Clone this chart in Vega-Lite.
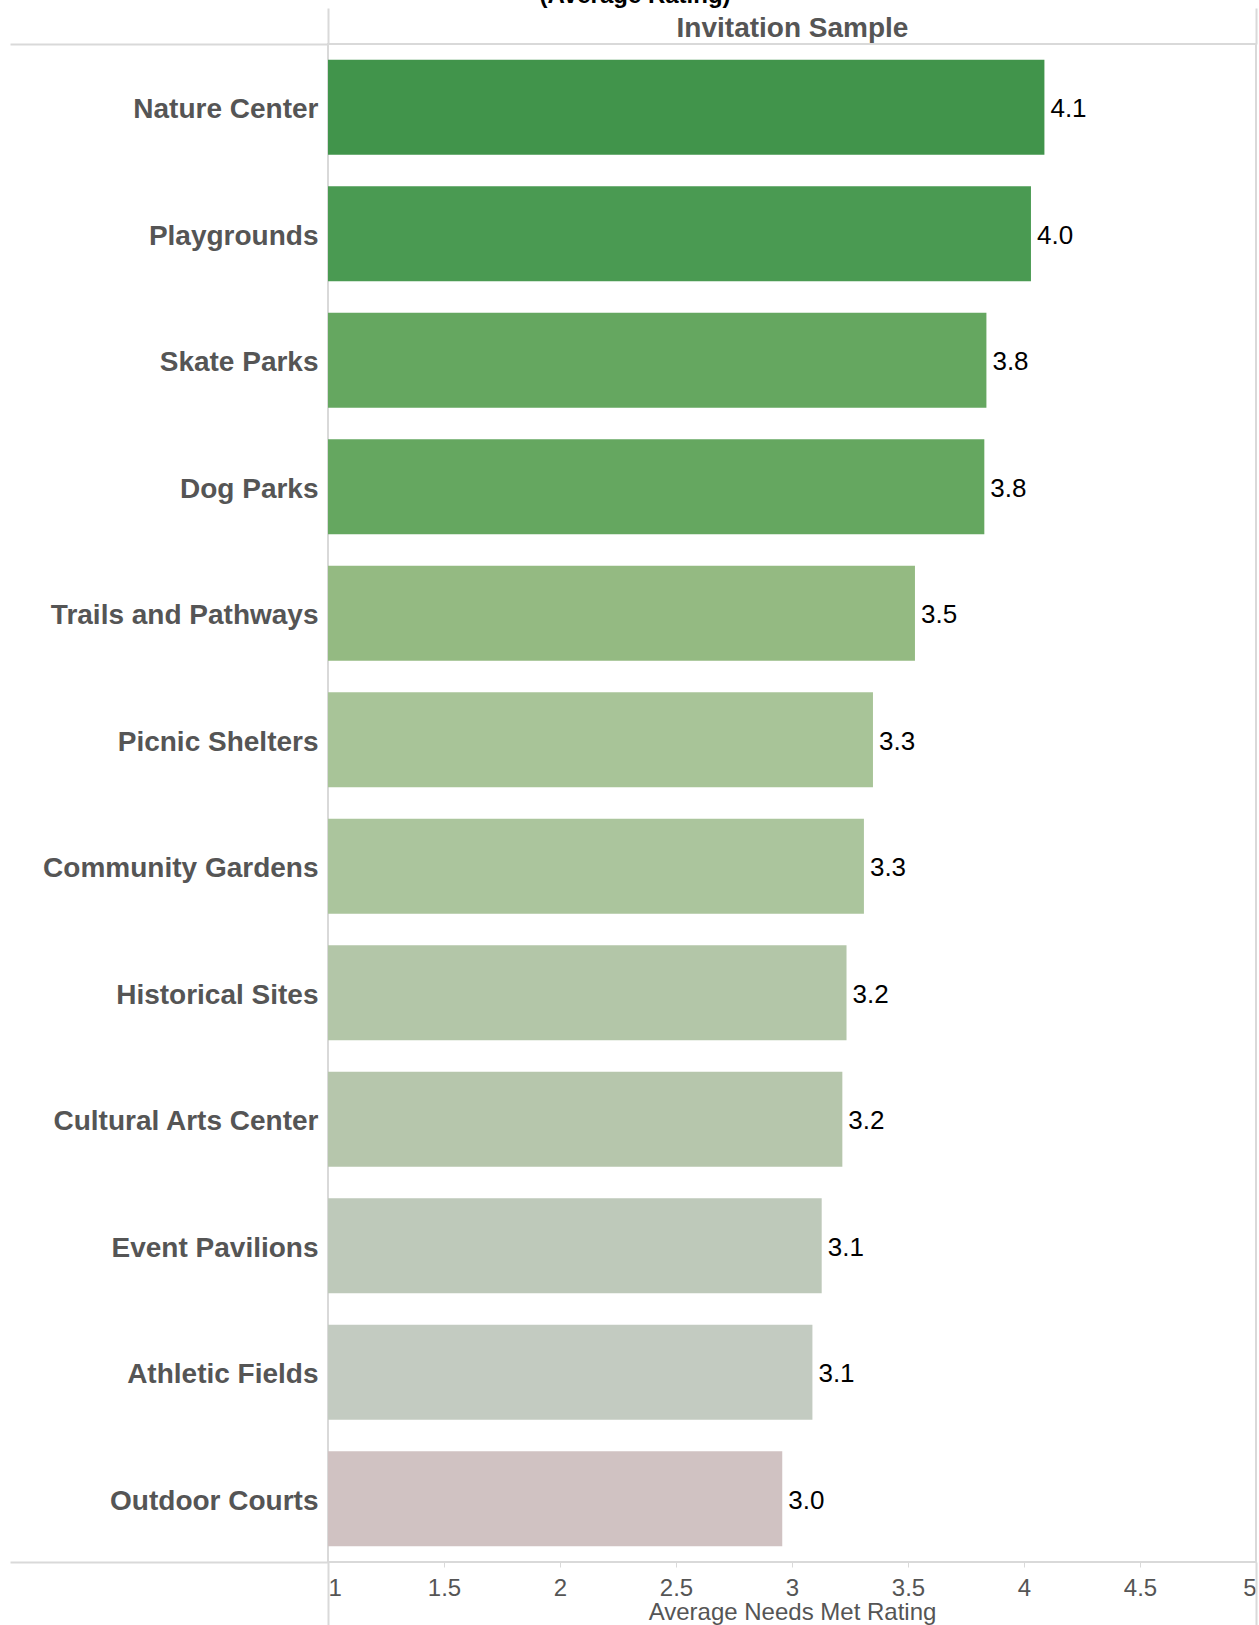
{
  "$schema": "https://vega.github.io/schema/vega-lite/v6.json",
  "width": 928,
  "height": 1518,
  "autosize": {"type": "none"},
  "padding": {"left": 328, "top": 44, "right": 3, "bottom": 63},
  "background": "white",
  "title": {"text": "(Average Rating)", "fontSize": 24, "fontWeight": "bold", "color": "#000000", "anchor": "middle", "frame": "bounds", "offset": 0, "baseline": "bottom", "dy": 25, "dx": 2},
  "config": {
    "font": "Liberation Sans",
    "view": {"stroke": "#d9d9d9", "strokeWidth": 2},
    "axis": {"grid": false}
  },
  "data": {
    "values": [
      {"facility": "Nature Center", "rating": 4.088},
      {"facility": "Playgrounds", "rating": 4.03},
      {"facility": "Skate Parks", "rating": 3.838},
      {"facility": "Dog Parks", "rating": 3.829},
      {"facility": "Trails and Pathways", "rating": 3.53},
      {"facility": "Picnic Shelters", "rating": 3.349},
      {"facility": "Community Gardens", "rating": 3.31},
      {"facility": "Historical Sites", "rating": 3.235},
      {"facility": "Cultural Arts Center", "rating": 3.217},
      {"facility": "Event Pavilions", "rating": 3.128},
      {"facility": "Athletic Fields", "rating": 3.088},
      {"facility": "Outdoor Courts", "rating": 2.958}
    ]
  },
  "layer": [
    {
      "layer": [
        {
          "mark": {"type": "bar"},
          "encoding": {
            "y": {
              "field": "facility", "type": "nominal", "sort": null,
              "scale": {"paddingInner": 0.25, "paddingOuter": 0.125},
              "axis": {"orient": "left", "title": null, "domain": false, "ticks": false, "labelFontSize": 28, "labelFontWeight": "bold", "labelColor": "#555555", "labelPadding": 10, "labelLimit": 400, "labelOffset": 3}
            },
            "x": {
              "field": "rating", "type": "quantitative",
              "scale": {"domain": [1, 5], "nice": false, "zero": false},
              "axis": {"orient": "bottom", "values": [1, 1.5, 2, 2.5, 3, 3.5, 4, 4.5, 5], "format": "~g", "domain": false, "tickColor": "#d9d9d9", "tickSize": 5, "tickWidth": 1, "labelFontSize": 24, "labelColor": "#555555", "labelPadding": 9, "labelFlush": true, "title": "Average Needs Met Rating", "titleFontSize": 24, "titleFontWeight": "normal", "titleColor": "#555555", "titlePadding": 0}
            },
            "x2": {"datum": 1},
            "color": {
              "field": "facility", "type": "nominal", "legend": null,
              "scale": {
                "domain": ["Nature Center", "Playgrounds", "Skate Parks", "Dog Parks", "Trails and Pathways", "Picnic Shelters", "Community Gardens", "Historical Sites", "Cultural Arts Center", "Event Pavilions", "Athletic Fields", "Outdoor Courts"],
                "range": ["#41944b", "#4a9a52", "#65a760", "#65a760", "#94ba82", "#a8c498", "#abc59d", "#b3c6a8", "#b6c6ac", "#bec9ba", "#c3cbc1", "#d0c2c2"]
              }
            }
          }
        },
        {
          "mark": {"type": "text", "align": "left", "baseline": "middle", "dx": 6, "dy": 2, "fontSize": 26, "color": "#000000"},
          "encoding": {
            "y": {"field": "facility", "type": "nominal", "sort": null},
            "x": {"field": "rating", "type": "quantitative"},
            "text": {"field": "rating", "type": "quantitative", "format": ".1f"}
          }
        }
      ]
    },
    {
      "mark": {"type": "point", "opacity": 0, "size": 0},
      "encoding": {
        "x": {"datum": 1, "type": "quantitative", "scale": {"domain": [1, 5], "nice": false, "zero": false}, "axis": {"orient": "bottom", "values": [1, 5], "tickSize": 63, "tickWidth": 2, "tickColor": "#d9d9d9", "labels": false, "domain": false, "title": null}},
        "y": {"datum": 0, "type": "quantitative", "scale": {"domain": [0, 1]}, "axis": {"orient": "left", "values": [0, 1], "tickSize": 318, "tickWidth": 2, "tickColor": "#d9d9d9", "labels": false, "domain": false, "title": null}}
      }
    },
    {
      "mark": {"type": "point", "opacity": 0, "size": 0},
      "encoding": {
        "x": {"datum": 5, "type": "quantitative", "scale": {"domain": [1, 5], "nice": false, "zero": false}, "axis": {"orient": "top", "values": [1, 5], "tickSize": 36, "tickWidth": 2, "tickColor": "#d9d9d9", "labels": false, "domain": false, "title": "Invitation Sample", "titleFontSize": 28, "titleFontWeight": "bold", "titleColor": "#555555", "titlePadding": -35}}
      }
    }
  ],
  "resolve": {"scale": {"y": "independent"}, "axis": {"x": "independent", "y": "independent"}}
}
